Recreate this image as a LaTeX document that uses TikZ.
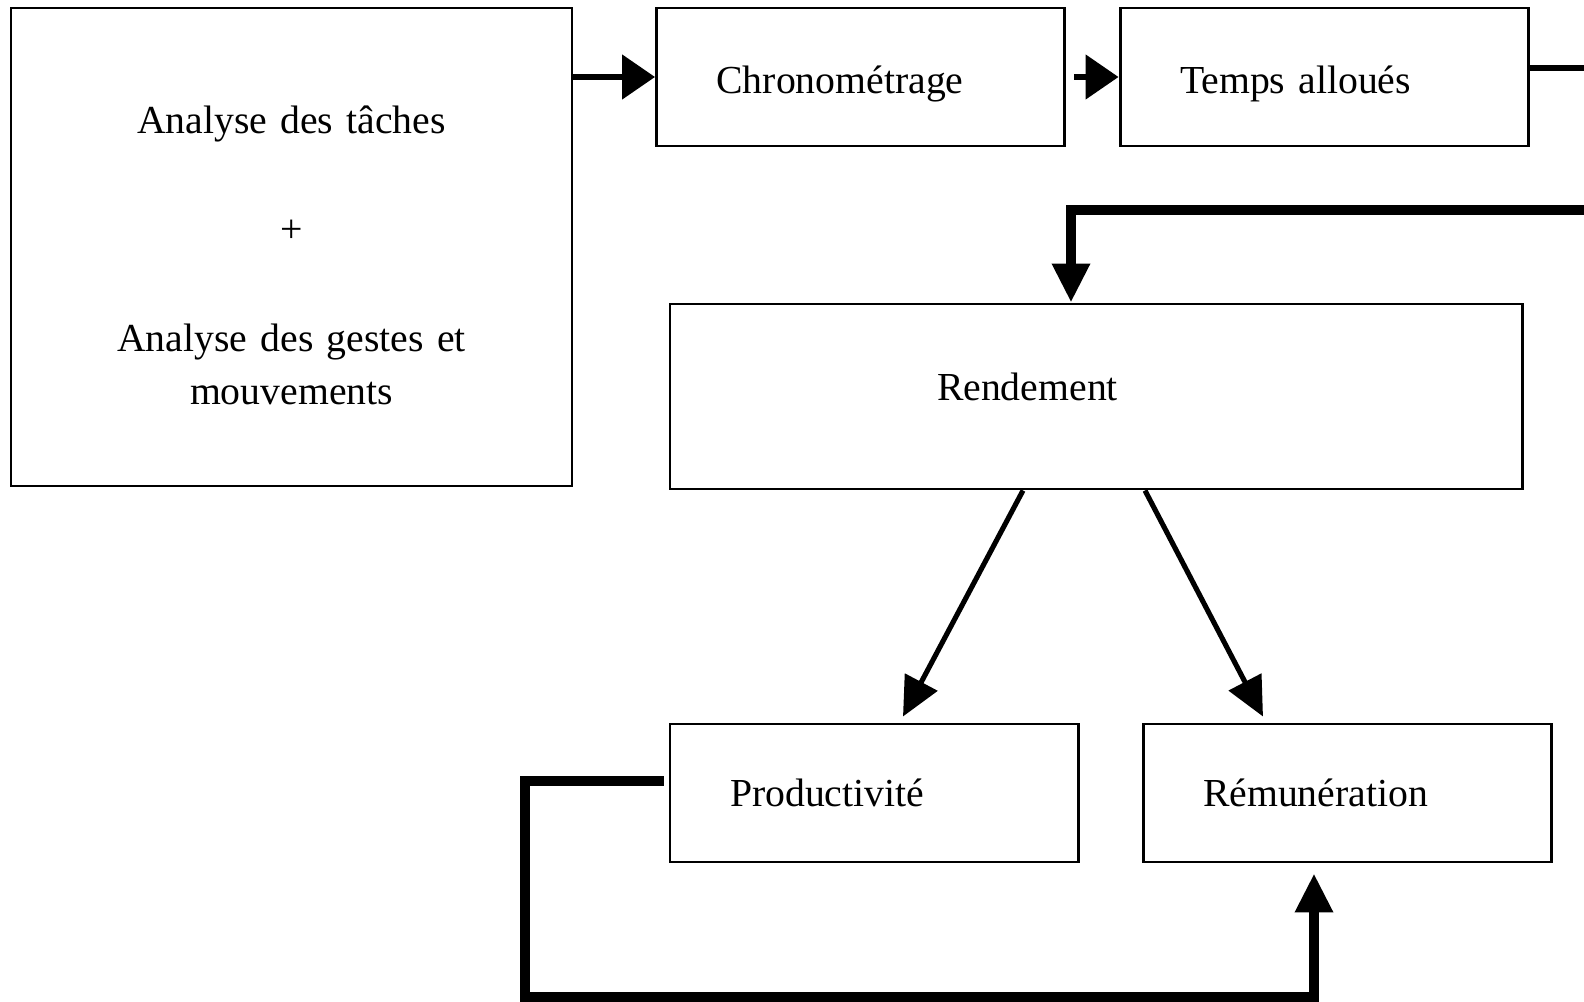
\documentclass[tikz,border=0pt]{standalone}
\usepackage{fontspec}
\setmainfont{Liberation Serif}
\usetikzlibrary{arrows.meta}

\begin{document}
\begin{tikzpicture}[line cap=butt,line join=miter,>={Triangle[length=0.39cm,width=0.36cm]},x=1.0cm,y=1.0cm,
		bloc/.style={draw,line width=0.85pt,rectangle,minimum height=1.38cm,text width=2.88cm,inner xsep=0.6cm,align=left,font=\fontsize{11.3}{15.1}\selectfont},
		fleche/.style={line width=1.45pt},
		haut/.style={fleche,-{Triangle[length=0.33cm,width=0.44cm]}},
		retour/.style={line width=2.7pt}]
			\clip(0.,0.) rectangle (15.84,10.01);
			% les blocs
			\node [bloc,text width=5.0cm,inner xsep=0.305cm,align=center,minimum height=4.78cm] (analyse) at (2.915,7.54) {\rule{0pt}{0.45cm}Analyse des tâches\\[0.56cm]+\\[0.56cm]Analyse des gestes et\\mouvements};
			\node [bloc,text height=0.325cm,text depth=0pt] (chrono) at (8.605,9.24) {Chronométrage};
			\node [bloc,text height=0.325cm,text depth=0pt] (temps) at (13.24,9.24) {Temps alloués};
			\node [bloc,text width=3.18cm,inner xsep=2.67cm,minimum height=1.85cm,text depth=0.2cm] (rend) at (10.96,6.045) {Rendement};
			\node [bloc] (prod) at (8.74,2.08) {Productivité};
			\node [bloc] (remu) at (13.47,2.08) {Rémunération};
			% les liaisons
			\coordinate (sortie) at (15.84,9.33);
			\coordinate (entree) at (15.84,7.91);
			\coordinate (coude) at (10.71,7.91);
			\coordinate (boucle) at (5.25,0.04);
			\draw [haut] (analyse.east |- chrono.west) -- (chrono.west);
			\draw [haut] ([xshift=0.08cm]chrono.east) -- (temps.west);
			\draw [fleche] ([yshift=0.09cm]temps.east) -- (sortie);
			\draw [retour,->] (entree) -- (coude) -- (coude |- rend.north);
			\draw [fleche,->] ([xshift=-0.73cm]rend.south) -- ([xshift=0.29cm,yshift=0.06cm]prod.north);
			\draw [fleche,->] ([xshift=0.49cm]rend.south) -- ([xshift=-0.84cm,yshift=0.06cm]remu.north);
			\draw [retour,->] ([xshift=-0.05cm,yshift=0.12cm]prod.west) -| (boucle) -| ([xshift=-0.33cm,yshift=-0.10cm]remu.south);
		\end{tikzpicture}
\end{document}
